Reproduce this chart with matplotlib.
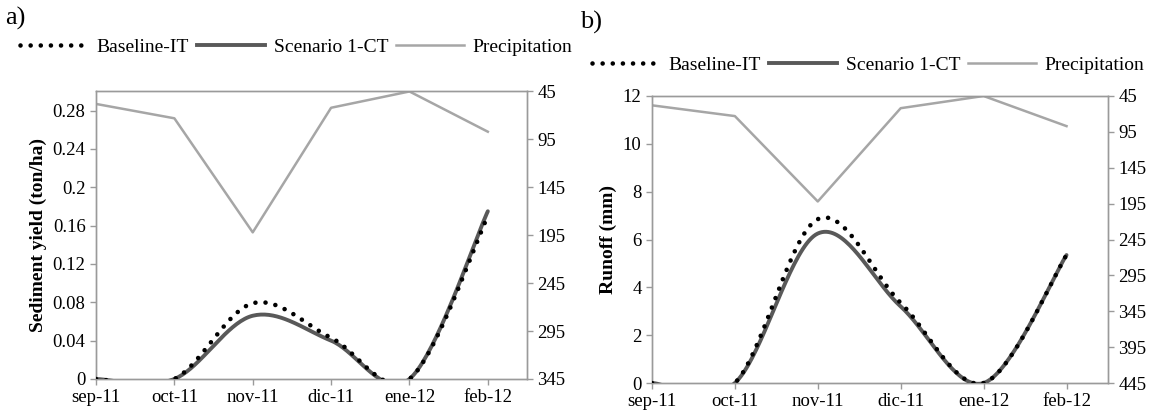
import numpy as np
import matplotlib
matplotlib.use("Agg")
import matplotlib.pyplot as plt
from matplotlib.lines import Line2D

plt.rcParams['font.family'] = ['Liberation Serif', 'DejaVu Serif']
plt.rcParams['font.size'] = 13.5

months = ['sep-11', 'oct-11', 'nov-11', 'dic-11', 'ene-12', 'feb-12']
precipitation = [58, 73, 192, 62, 45, 87]

sed_baseline = [0.0, 0.0, 0.079, 0.043, 0.0, 0.170]
sed_scenario = [0.0, 0.0, 0.066, 0.040, 0.0, 0.175]

run_baseline = [0.0, 0.0, 6.85, 3.35, 0.0, 5.35]
run_scenario = [0.0, 0.0, 6.25, 3.20, 0.0, 5.35]

DOT = '#000000'
DARK = '#595959'
LIGHT = '#a6a6a6'
SPINE = '#9a9a9a'


def smooth(y, n=40):
    # Excel-like smoothed line: Catmull-Rom style cubic Bezier segments
    x = np.arange(len(y), dtype=float)
    y = np.asarray(y, dtype=float)
    px = np.concatenate([[x[0]], x, [x[-1]]])
    py = np.concatenate([[y[0]], y, [y[-1]]])
    t = np.linspace(0, 1, n)[:, None]
    xs, ys = [], []
    for i in range(len(x) - 1):
        p0 = np.array([x[i], y[i]])
        p3 = np.array([x[i + 1], y[i + 1]])
        p1 = p0 + (np.array([px[i + 2], py[i + 2]]) - np.array([px[i], py[i]])) / 6
        p2 = p3 - (np.array([px[i + 3], py[i + 3]]) - np.array([px[i + 1], py[i + 1]])) / 6
        b = ((1 - t) ** 3) * p0 + 3 * ((1 - t) ** 2) * t * p1 + 3 * (1 - t) * t ** 2 * p2 + t ** 3 * p3
        xs.append(b[:, 0])
        ys.append(b[:, 1])
    return np.concatenate(xs), np.concatenate(ys)


def panel(ax, base, scen, ylim, yticks, ylabel, rmax, ytick_fmt):
    ax2 = ax.twinx()
    xb, yb = smooth(base)
    xs, ys = smooth(scen)
    ax.plot(xs, ys, color=DARK, lw=2.8, solid_capstyle='round', zorder=3)
    ax.plot(xb, yb, color=DOT, lw=3.3, linestyle=(0, (0.01, 2.2)),
            dash_capstyle='round', zorder=4)
    ax2.plot(range(len(precipitation)), precipitation, color=LIGHT, lw=1.8)

    ax.set_xlim(0, 5.5)
    ax.set_ylim(*ylim)
    ax.set_yticks(yticks)
    ax.set_yticklabels([ytick_fmt(v) for v in yticks])
    ax.set_xticks(range(len(months)))
    ax.set_xticklabels(months)
    ax.set_ylabel(ylabel, fontweight='bold', fontsize=14)

    ax2.set_ylim(rmax, 45)
    ax2.set_yticks(np.arange(45, rmax + 1, 50))

    for a in (ax, ax2):
        for s in a.spines.values():
            s.set_color(SPINE)
            s.set_linewidth(1)
        a.tick_params(colors=SPINE, labelcolor='black', labelsize=13.5, length=4, width=1)
    ax.set_zorder(ax2.get_zorder() + 1)
    ax.patch.set_visible(False)
    return ax2


fig = plt.figure(figsize=(11.58, 4.19), dpi=100)
ax_a = fig.add_axes([0.0829, 0.0955, 0.3722, 0.6862])
ax_b = fig.add_axes([0.5630, 0.0859, 0.3938, 0.6850])

panel(ax_a, sed_baseline, sed_scenario, (0, 0.30), np.arange(0, 0.281, 0.04),
      'Sediment yield (ton/ha)', 345, lambda v: '0' if v == 0 else f'{v:.2f}'.rstrip('0'))
panel(ax_b, run_baseline, run_scenario, (0, 12), np.arange(0, 13, 2),
      'Runoff (mm)', 445, lambda v: f'{v:.0f}')

handles = [
    Line2D([], [], color=DOT, lw=3.3, linestyle=(0, (0.01, 2.2)), dash_capstyle='round'),
    Line2D([], [], color=DARK, lw=2.8),
    Line2D([], [], color=LIGHT, lw=1.8),
]
labels = ['Baseline-IT', 'Scenario 1-CT', 'Precipitation']

for xpos, ypos in [(20 / 1158, 1 - 47 / 419), (592 / 1158, 1 - 65 / 419)]:
    fig.legend(handles, labels, loc='center left', bbox_to_anchor=(xpos, ypos),
               ncol=3, frameon=False, fontsize=14, handlelength=3.5,
               handletextpad=0.45, columnspacing=0.4, borderpad=0, borderaxespad=0)

fig.text(5 / 1158, 1 - 18 / 419, 'a)', fontsize=19, va='center', ha='left')
fig.text(580 / 1158, 1 - 22 / 419, 'b)', fontsize=19, va='center', ha='left')

fig.savefig('out.png', dpi=100)
